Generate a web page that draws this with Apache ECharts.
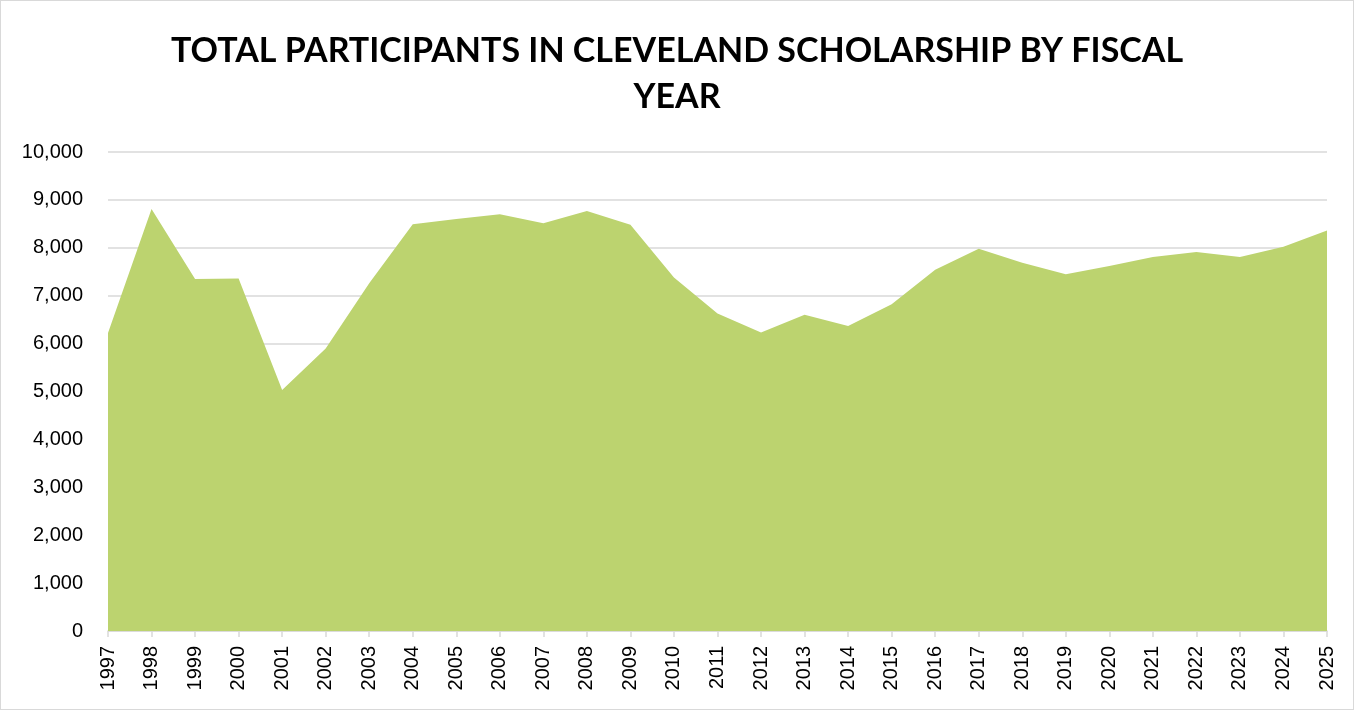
<!DOCTYPE html>
<html>
<head>
<meta charset="utf-8">
<script src="https://cdn.jsdelivr.net/npm/echarts@6/dist/echarts.min.js"></script>
<style>
  html, body { margin: 0; padding: 0; background: #fff; }
  #chart { width: 1354px; height: 710px; box-sizing: border-box; border: 1px solid #d9d9d9; }
</style>
</head>
<body>
<div id="chart"></div>
<script>
// fiscal years
var years = ['1997', '1998', '1999', '2000', '2001', '2002', '2003', '2004', '2005', '2006',
  '2007', '2008', '2009', '2010', '2011', '2012', '2013', '2014', '2015', '2016',
  '2017', '2018', '2019', '2020', '2021', '2022', '2023', '2024', '2025'];

// total participants
var participants = [6220, 8810, 7350, 7360, 5030, 5900, 7260, 8490, 8600, 8700,
  8510, 8770, 8480, 7380, 6630, 6230, 6600, 6370, 6820, 7540,
  7980, 7690, 7450, 7620, 7810, 7910, 7810, 8020, 8360];

var titleText = 'TOTAL PARTICIPANTS IN CLEVELAND SCHOLARSHIP BY FISCAL\nYEAR';

var chart = echarts.init(document.getElementById('chart'));

var option = {
  animation: false,
  title: {
    text: titleText,
    left: 'center',
    top: 22,
    textStyle: {
      fontFamily: 'Lato',
      fontWeight: 'bold',
      fontSize: 34,
      lineHeight: 46,
      color: '#000'
    }
  },
  grid: {
    left: 107,
    right: 26,
    top: 151,
    bottom: 78
  },
  xAxis: {
    type: 'category',
    data: years,
    boundaryGap: false,
    axisLine: { lineStyle: { color: '#d9d9d9', width: 1.5 } },
    axisTick: { show: true, length: 6, lineStyle: { color: '#d9d9d9', width: 1.5 } },
    axisLabel: {
      interval: 0,
      rotate: 90,
      fontFamily: 'Liberation Sans',
      fontSize: 20,
      color: '#000',
      margin: 15
    }
  },
  yAxis: {
    type: 'value',
    min: 0,
    max: 10000,
    interval: 1000,
    axisLine: { show: false },
    axisTick: { show: false },
    splitLine: { lineStyle: { color: '#d9d9d9', width: 1.5 } },
    axisLabel: {
      fontFamily: 'Liberation Sans',
      fontSize: 20,
      color: '#000',
      margin: 25,
      formatter: function (v) {
        return v.toLocaleString('en-US');
      }
    }
  },
  series: [
    {
      name: 'Total Participants',
      type: 'line',
      data: participants,
      symbol: 'none',
      lineStyle: { width: 0 },
      areaStyle: { color: '#bcd36f', opacity: 1 }
    }
  ]
};

chart.setOption(option);
</script>
</body>
</html>
